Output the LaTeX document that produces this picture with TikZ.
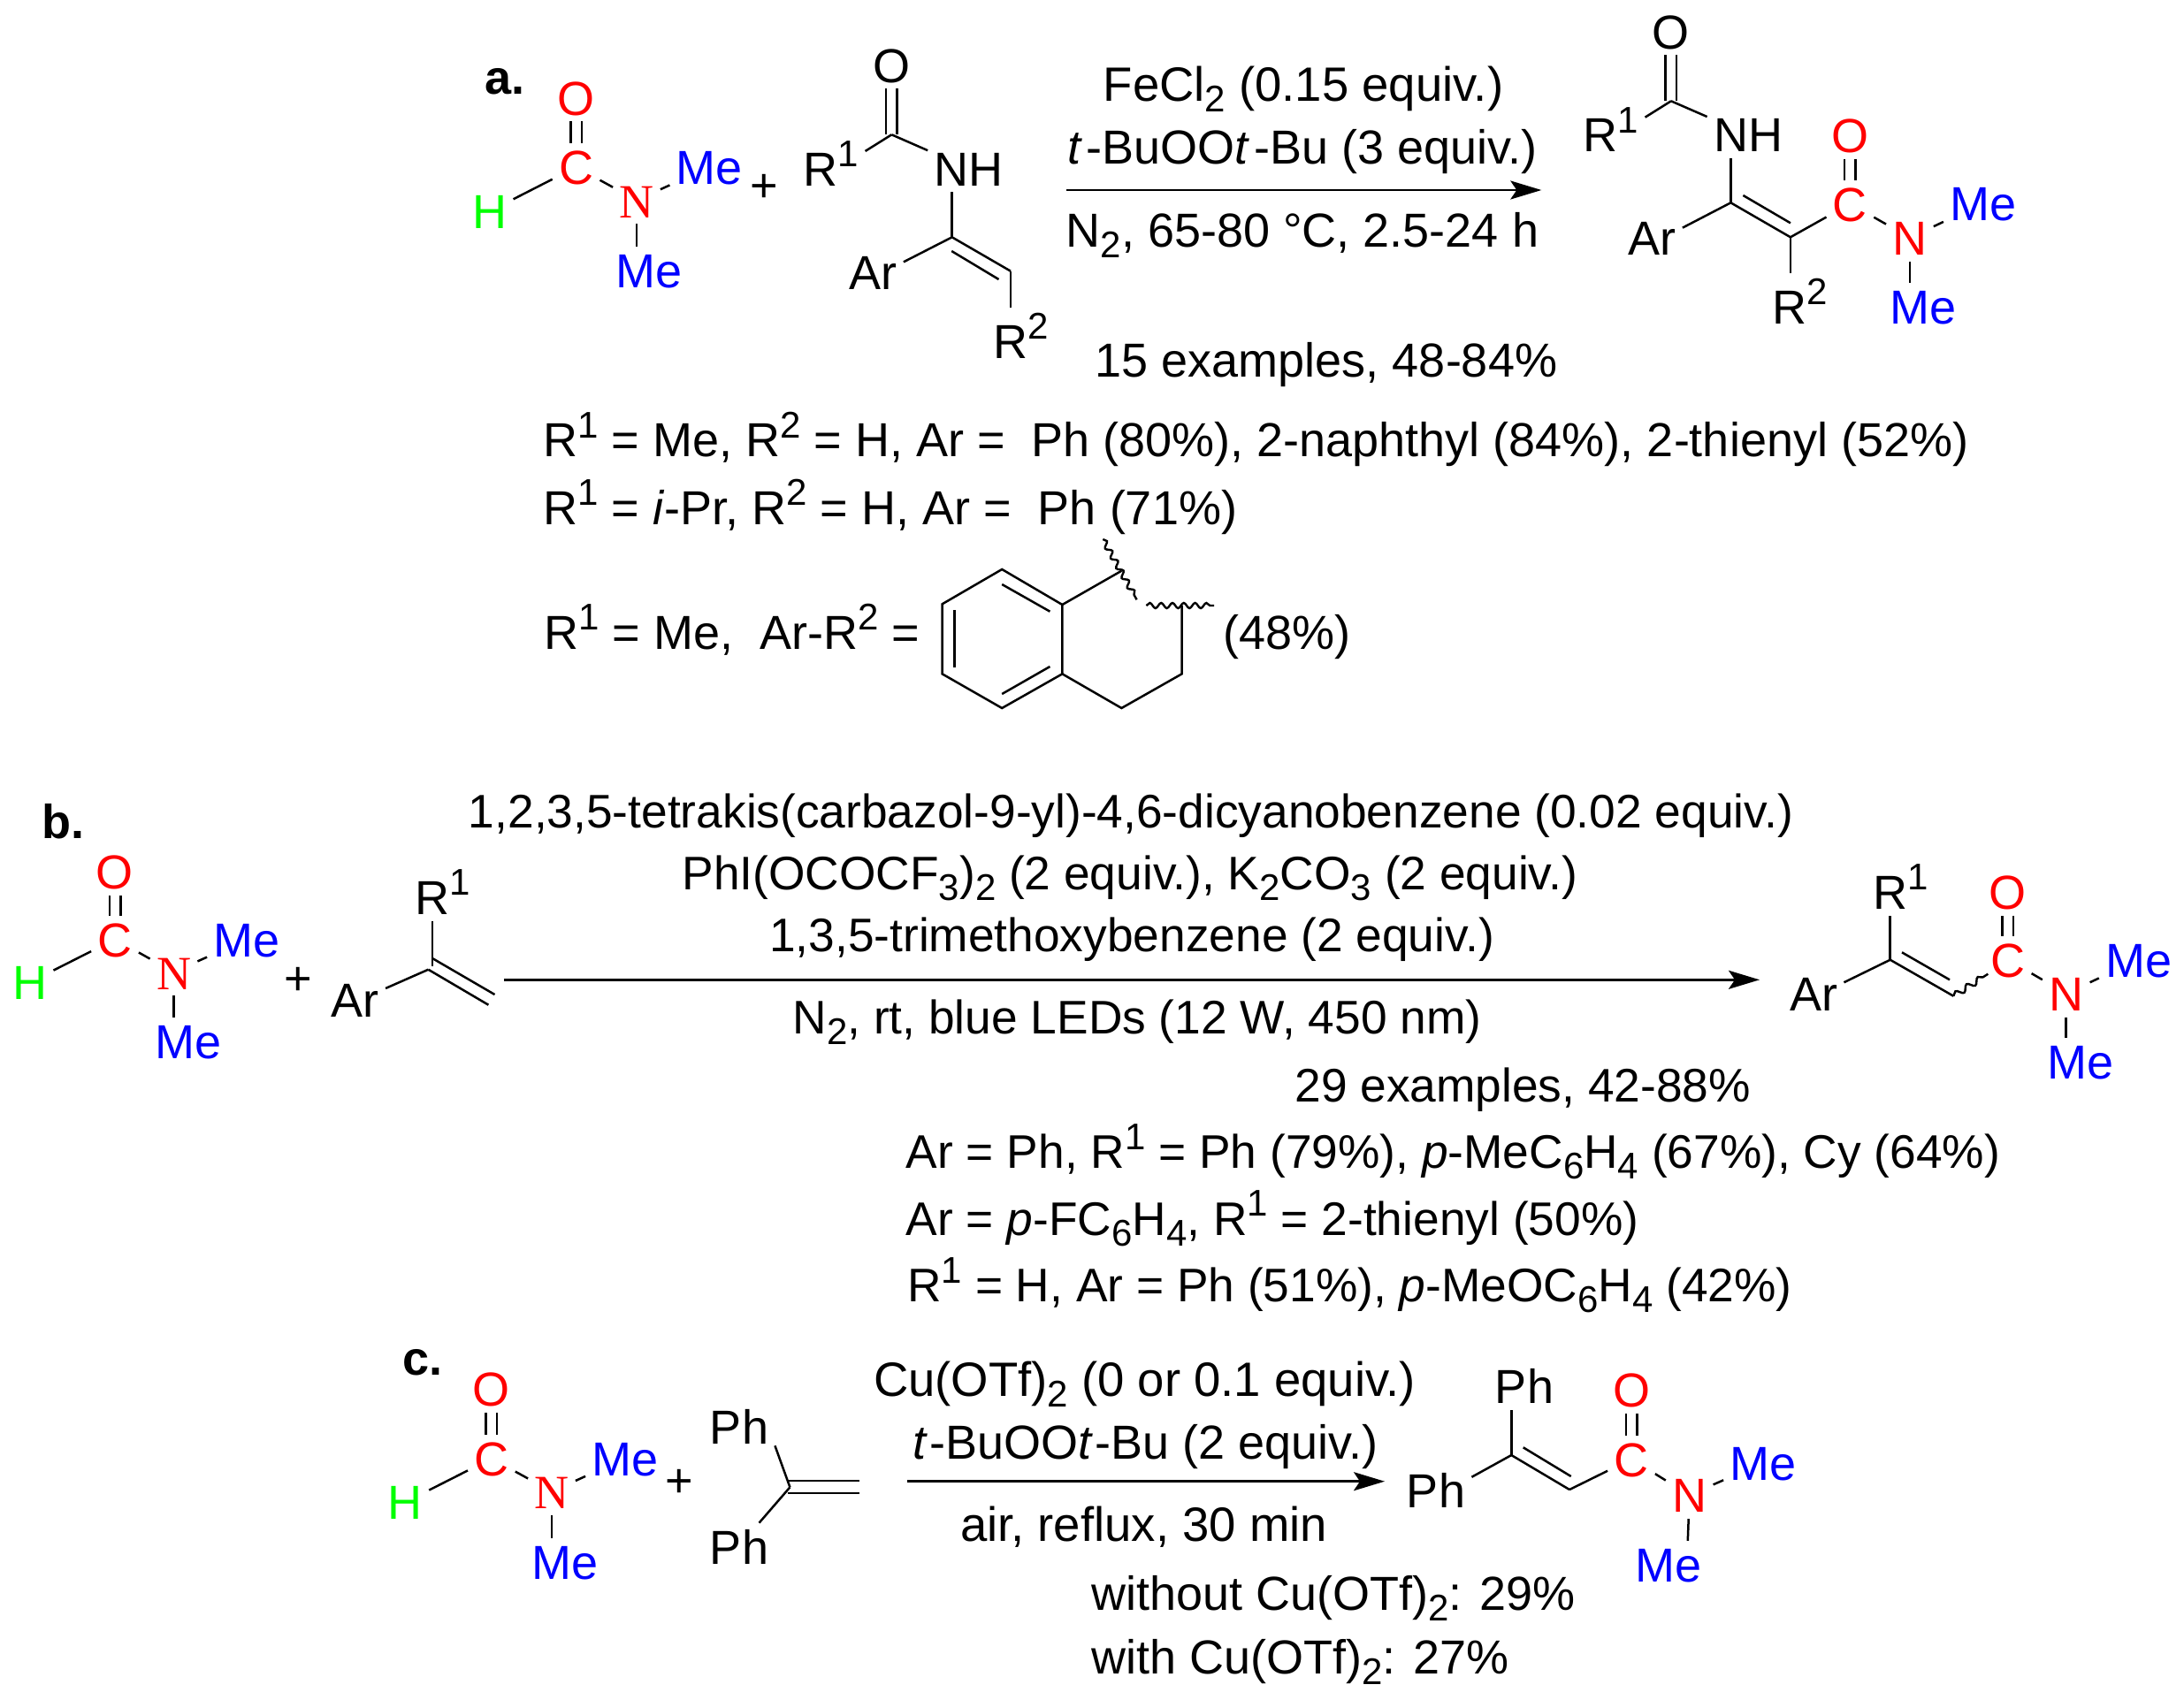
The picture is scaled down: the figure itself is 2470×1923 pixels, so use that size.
\documentclass[tikz,border=0pt]{standalone}
\usepackage{fontspec}
\setmainfont{Liberation Sans}
\newfontfamily\serifN{Liberation Serif}
\usetikzlibrary{arrows.meta,decorations.pathmorphing}

\newcommand{\up}[1]{\raisebox{10.8pt}{\fontsize{21}{21}\selectfont #1}}
\newcommand{\dn}[1]{\raisebox{-6pt}{\fontsize{21}{21}\selectfont #1}}

\tikzstyle{atom}=[
    anchor=base,
    inner sep=3.5pt,
    text height=19.5pt,
    text depth=0pt,
    font=\fontsize{27}{32}\selectfont
]
\tikzstyle{rgroup}=[
    atom,
    text height=25pt
]
\tikzstyle{txt}=[
    anchor=base west,
    inner sep=0pt,
    font=\fontsize{27}{32}\selectfont
]
\tikzstyle{reagent}=[
    txt,
    anchor=base
]
\tikzstyle{narrow}=[font=\fontsize{26.65}{32}\selectfont]
\tikzstyle{wide}=[font=\fontsize{27.25}{32}\selectfont]
\tikzstyle{letter}=[
    txt,
    font=\fontsize{27}{32}\selectfont\bfseries
]
\tikzstyle{bond}=[line width=1.25pt]
\tikzstyle{dbl}=[double,double distance=5pt]
\tikzstyle{wavy}=[
    line width=1.2pt,
    decorate,
    decoration={snake,segment length=6.4pt,amplitude=1.5pt}
]
\tikzstyle{rarrow}=[line width=1.25pt]

\begin{document}
\begin{tikzpicture}[x=0.5pt,y=-0.5pt,>={Stealth[length=17.5pt,width=10.5pt,inset=3.5pt]}]
	\useasboundingbox (0,0) rectangle (2470,1923);

	% REACTION A, FORMAMIDE
	\node (let_a) [letter] at (548,106) {a.};
	\node (o_a) [atom,red] at (651.6,130) {O};
	\node (c_a) [atom,red] at (651.6,208.5) {C};
	\node (h_a) [atom,green] at (553.7,258.5) {H};
	\node (n_a) [atom,red] at (720,246) {\serifN N};
	\node (me1_a) [atom,blue] at (802.3,208.5) {Me};
	\node (me2_a) [atom,blue] at (734.5,325) {Me};
	\node (plus_a) [reagent] at (864.4,228) {+};
	\path[bond]
	(o_a) edge[dbl] (c_a)
	(c_a) edge (h_a)
	(c_a) edge (n_a)
	(n_a) edge (me1_a)
	(n_a) edge (n_a |- me2_a.north)
	;

	% REACTION A, ENAMIDE
	\node (o_e) [atom] at (1008.4,93) {O};
	\coordinate (co_e) at (1008.4,152.3);
	\node (r1_e) [rgroup] at (940,210) {R\up{1}};
	\node (nh_e) [atom] at (1095.6,210) {NH};
	\coordinate (va_e) at (1076.7,268.3);
	\coordinate (vb_e) at (1143,306.7);
	\coordinate (ia_e) at (1076.2,284);
	\coordinate (ib_e) at (1129.5,316);
	\node (ar_e) [atom] at (987.5,327) {Ar};
	\node (r2_e) [rgroup] at (1154.3,405) {R\up{2}};
	\path[bond]
	(o_e) edge[dbl] (co_e)
	(co_e) edge (r1_e.20)
	(co_e) edge (nh_e)
	(va_e) edge (va_e |- nh_e.south)
	(va_e) edge (ar_e.18)
	(va_e) edge (vb_e)
	(ia_e) edge (ib_e)
	(vb_e) edge (vb_e |- r2_e.north)
	;

	% REACTION A, ARROW AND CONDITIONS
	\coordinate (as_a) at (1206,215);
	\coordinate (ae_a) at (1743.3,215);
	\path[->,rarrow] (as_a) edge (ae_a);
	\node (cond1_a) [reagent,wide] at (1474,114) {FeCl\dn{2} (0.15 equiv.)};
	\node (cond2_a) [reagent] at (1473,185) {\textit{t}\kern2.5pt-BuOO\textit{t}\kern2.5pt-Bu (3 equiv.)};
	\node (cond3_a) [reagent] at (1473,279.3) {N\dn{2}, 65-80 °C, 2.5-24 h};
	\node (yield_a) [reagent] at (1500,426.7) {15 examples, 48-84\%};
	\node (sub1_a) [txt] at (614,516.7) {R\up{1} = Me, R\up{2} = H, Ar =~ Ph (80\%), 2-naphthyl (84\%), 2-thienyl (52\%)};
	\node (sub2_a) [txt] at (614,593.3) {R\up{1} = \textit{i}-Pr, R\up{2} = H, Ar =~ Ph (71\%)};
	\node (sub3_a) [txt] at (615,734) {R\up{1} = Me,~ Ar-R\up{2} =};
	\node (sub4_a) [txt] at (1383,734) {(48\%)};

	% REACTION A, TETRALIN
	\coordinate (r1) at (1133.2,644);
	\coordinate (r2) at (1065.6,683.3);
	\coordinate (r3) at (1065.6,762.3);
	\coordinate (r4) at (1133.2,801);
	\coordinate (r5) at (1201.4,762.3);
	\coordinate (r6) at (1201.4,684);
	\coordinate (r7) at (1268.4,645.7);
	\coordinate (r8) at (1336.6,685);
	\coordinate (r9) at (1336.6,762.3);
	\coordinate (r10) at (1268.4,801);
	\draw[bond] (r1) -- (r2) -- (r3) -- (r4) -- (r5) -- (r6) -- cycle;
	\draw[bond] (r6) -- (r7);
	\draw[bond] (r8) -- (r9) -- (r10) -- (r5);
	\coordinate (d1a) at (1079.6,690);
	\coordinate (d1b) at (1079.6,755);
	\coordinate (d2a) at (1133.2,661);
	\coordinate (d2b) at (1187.4,691.7);
	\coordinate (d3a) at (1133.2,785);
	\coordinate (d3b) at (1187.4,754);
	\draw[bond] (d1a) -- (d1b);
	\draw[bond] (d2a) -- (d2b);
	\draw[bond] (d3a) -- (d3b);
	\coordinate (w1a) at (1247.3,610);
	\coordinate (w1b) at (1285.6,678.3);
	\coordinate (w2a) at (1296.4,685);
	\coordinate (w2b) at (1373,685);
	\draw[wavy] (w1a) -- (w1b);
	\draw[wavy] (w2a) -- (w2b);

	% REACTION A, PRODUCT
	\node (o_p) [atom] at (1889.9,55) {O};
	\coordinate (co_p) at (1889.9,114.3);
	\node (r1_p) [rgroup] at (1822,171.7) {R\up{1}};
	\node (nh_p) [atom] at (1977,171.7) {NH};
	\coordinate (va_p) at (1957.4,229.3);
	\coordinate (vb_p) at (2024.9,268.3);
	\coordinate (ia_p) at (1971.4,221);
	\coordinate (ib_p) at (2024.9,252.3);
	\node (ar_p) [atom] at (1868.5,288.3) {Ar};
	\node (r2_p) [rgroup] at (2035.6,366) {R\up{2}};
	\node (c_p) [atom,red] at (2092.4,250) {C};
	\node (o2_p) [atom,red] at (2092.4,172.3) {O};
	\node (n_p) [atom,red] at (2159.9,288.3) {N};
	\node (me1_p) [atom,blue] at (2242.8,249.3) {Me};
	\node (me2_p) [atom,blue] at (2175.3,366) {Me};
	\path[bond]
	(o_p) edge[dbl] (co_p)
	(co_p) edge (r1_p.20)
	(co_p) edge (nh_p)
	(va_p) edge (va_p |- nh_p.south)
	(va_p) edge (ar_p.18)
	(va_p) edge (vb_p)
	(ia_p) edge (ib_p)
	(vb_p) edge (vb_p |- r2_p.north)
	(vb_p) edge (c_p)
	(o2_p) edge[dbl] (c_p)
	(c_p) edge (n_p)
	(n_p) edge (me1_p)
	(n_p) edge (n_p |- me2_p.north)
	;

	% REACTION B, FORMAMIDE
	\node (let_b) [letter] at (47,948.3) {b.};
	\node (o_b) [atom,red] at (130,1005.5) {O};
	\node (c_b) [atom,red] at (130,1082) {C};
	\node (h_b) [atom,green] at (33.6,1130.7) {H};
	\node (n_b) [atom,red] at (196.5,1119) {\serifN N};
	\node (me1_b) [atom,blue] at (279,1082) {Me};
	\node (me2_b) [atom,blue] at (212.7,1197.3) {Me};
	\node (plus_b) [reagent] at (337.7,1125) {+};
	\path[bond]
	(o_b) edge[dbl] (c_b)
	(c_b) edge (h_b)
	(c_b) edge (n_b)
	(n_b) edge (me1_b)
	(n_b) edge (n_b |- me2_b.north)
	;

	% REACTION B, ALKENE
	\node (ar_s) [atom] at (401.7,1150) {Ar};
	\node (r1_s) [rgroup] at (500.5,1034.3) {R\up{1}};
	\coordinate (v_s) at (489,1092.7);
	\coordinate (ua_s) at (489,1084);
	\coordinate (ub_s) at (559.5,1125);
	\coordinate (la_s) at (484.4,1096.7);
	\coordinate (lb_s) at (552.4,1136.7);
	\path[bond]
	(v_s) edge (v_s |- r1_s.south)
	(la_s) edge (ar_s.20)
	(ua_s) edge (ub_s)
	(la_s) edge (lb_s)
	;

	% REACTION B, ARROW AND CONDITIONS
	\coordinate (as_b) at (570,1108.3);
	\coordinate (ae_b) at (1990,1108.3);
	\path[->,rarrow] (as_b) edge (ae_b);
	\node (cond1_b) [reagent,narrow] at (1279,936.7) {1,2,3,5-tetrakis(carbazol-9-yl)-4,6-dicyanobenzene (0.02 equiv.)};
	\node (cond2_b) [reagent,narrow] at (1278,1006) {PhI(OCOCF\dn{3})\dn{2} (2 equiv.), K\dn{2}CO\dn{3} (2 equiv.)};
	\node (cond3_b) [reagent,narrow] at (1280,1076.7) {1,3,5-trimethoxybenzene (2 equiv.)};
	\node (cond4_b) [reagent,narrow] at (1286,1169.3) {N\dn{2}, rt, blue LEDs (12 W, 450 nm)};
	\node (yield_b) [txt,narrow] at (1464,1246) {29 examples, 42-88\%};
	\node (sub1_b) [txt,narrow] at (1024.5,1321.7) {Ar = Ph, R\up{1} = Ph (79\%), \textit{p}-MeC\dn{6}H\dn{4} (67\%), Cy (64\%)};
	\node (sub2_b) [txt,narrow] at (1024.5,1397.3) {Ar = \textit{p}-FC\dn{6}H\dn{4}, R\up{1} = 2-thienyl (50\%)};
	\node (sub3_b) [txt,narrow] at (1026,1472.7) {R\up{1} = H, Ar = Ph (51\%), \textit{p}-MeOC\dn{6}H\dn{4} (42\%)};

	% REACTION B, PRODUCT
	\node (r1_q) [rgroup] at (2150,1028.3) {R\up{1}};
	\coordinate (v_q) at (2137.7,1085.7);
	\node (ar_q) [atom] at (2051,1143.3) {Ar};
	\coordinate (w_q) at (2209.3,1126.7);
	\coordinate (ia_q) at (2151,1077.3);
	\coordinate (ib_q) at (2205,1108.3);
	\coordinate (wend_q) at (2248.3,1101.7);
	\node (c_q) [atom,red] at (2270.7,1105) {C};
	\node (o_q) [atom,red] at (2270.7,1028.3) {O};
	\node (n_q) [atom,red] at (2336.7,1143.3) {N};
	\node (me1_q) [atom,blue] at (2418.7,1105) {Me};
	\node (me2_q) [atom,blue] at (2352.7,1220) {Me};
	\path[bond]
	(v_q) edge (v_q |- r1_q.south)
	(v_q) edge (ar_q.20)
	(v_q) edge (w_q)
	(ia_q) edge (ib_q)
	(o_q) edge[dbl] (c_q)
	(c_q) edge (n_q)
	(n_q) edge (me1_q)
	(n_q) edge (n_q |- me2_q.north)
	;
	\draw[wavy,decoration={snake,segment length=7.5pt,amplitude=1.7pt}] (w_q) -- (wend_q);

	% REACTION C, FORMAMIDE
	\node (let_c) [letter] at (455,1555) {c.};
	\node (o_c) [atom,red] at (555.9,1590.7) {O};
	\node (c_c) [atom,red] at (555.9,1669.3) {C};
	\node (h_c) [atom,green] at (458.3,1718.7) {H};
	\node (n_c) [atom,red] at (624,1706.7) {\serifN N};
	\node (me1_c) [atom,blue] at (707,1669) {Me};
	\node (me2_c) [atom,blue] at (639.3,1786.7) {Me};
	\node (plus_c) [reagent] at (768.6,1693) {+};
	\path[bond]
	(o_c) edge[dbl] (c_c)
	(c_c) edge (h_c)
	(c_c) edge (n_c)
	(n_c) edge (me1_c)
	(n_c) edge (n_c |- me2_c.north)
	;

	% REACTION C, ALKENE
	\node (ph1_s) [atom] at (836,1633.3) {Ph};
	\node (ph2_s) [atom] at (836,1769) {Ph};
	\coordinate (v_t) at (893.4,1682.3);
	\coordinate (ua_t) at (890.7,1675);
	\coordinate (ub_t) at (972.2,1675);
	\coordinate (la_t) at (890.7,1689);
	\coordinate (lb_t) at (972.2,1689);
	\path[bond]
	(v_t) edge (ph1_s.-28)
	(v_t) edge (ph2_s.50)
	(ua_t) edge (ub_t)
	(la_t) edge (lb_t)
	;

	% REACTION C, ARROW AND CONDITIONS
	\coordinate (as_c) at (1025.8,1675.7);
	\coordinate (ae_c) at (1566,1675.7);
	\path[->,rarrow] (as_c) edge (ae_c);
	\node (cond1_c) [reagent,wide] at (1294.5,1579.3) {Cu(OTf)\dn{2} (0 or 0.1 equiv.)};
	\node (cond2_c) [reagent] at (1295.5,1650) {\textit{t}\kern1.2pt-BuOO\textit{t}\kern1.2pt-Bu (2 equiv.)};
	\node (cond3_c) [reagent,wide] at (1293.5,1743.3) {air, reflux, 30 min};
	\node (sub1_c) [txt] at (1234,1821.7) {without Cu(OTf)\dn{2}: 29\%};
	\node (sub2_c) [txt] at (1234,1893.3) {with Cu(OTf)\dn{2}: 27\%};

	% REACTION C, PRODUCT
	\node (ph1_r) [atom] at (1724,1587.7) {Ph};
	\node (ph2_r) [atom] at (1624,1705) {Ph};
	\coordinate (v_r) at (1709.3,1646);
	\coordinate (w_r) at (1775,1685);
	\coordinate (ia_r) at (1722.7,1637.3);
	\coordinate (ib_r) at (1776.7,1670);
	\node (c_r) [atom,red] at (1845,1670) {C};
	\node (o_r) [atom,red] at (1845,1591.7) {O};
	\node (n_r) [atom,red] at (1910.7,1710.7) {N};
	\node (me1_r) [atom,blue] at (1994,1674) {Me};
	\node (me2_r) [atom,blue] at (1887,1789.3) {Me};
	\path[bond]
	(v_r) edge (v_r |- ph1_r.south)
	(v_r) edge (ph2_r.20)
	(v_r) edge (w_r)
	(ia_r) edge (ib_r)
	(w_r) edge (c_r)
	(o_r) edge[dbl] (c_r)
	(c_r) edge (n_r)
	(n_r) edge (me1_r)
	(n_r) edge (me2_r.51)
	;
\end{tikzpicture}
\end{document}
